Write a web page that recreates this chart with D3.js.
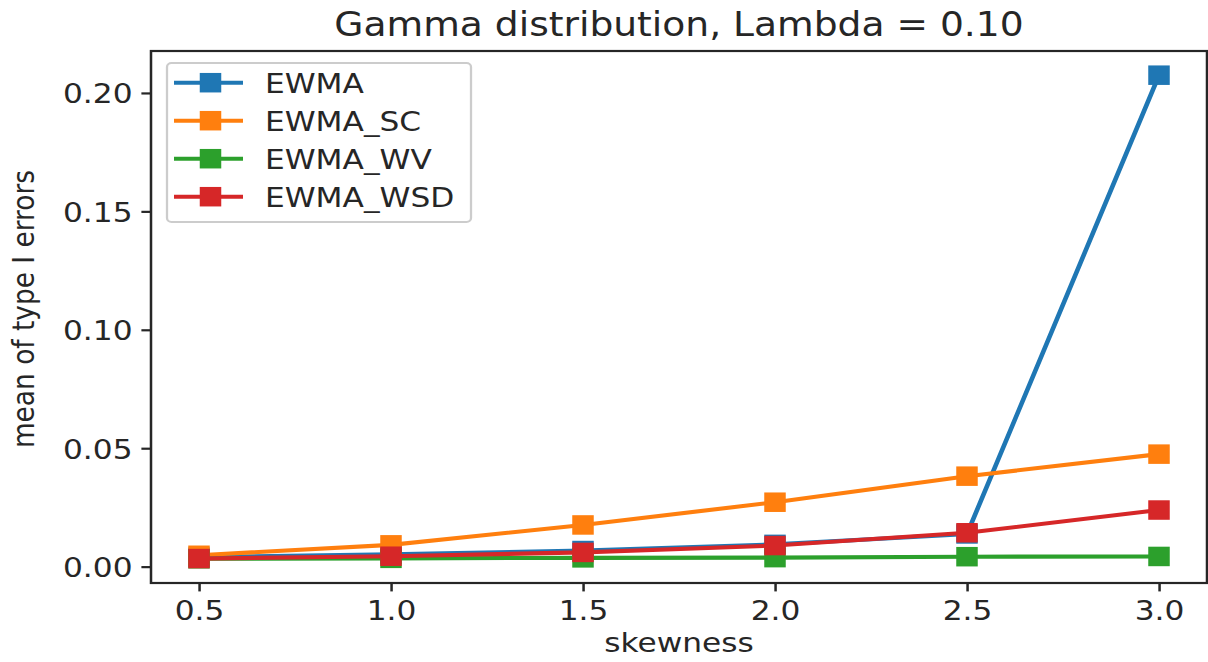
<!DOCTYPE html>
<html>
<head>
<meta charset="utf-8">
<script src="https://cdn.jsdelivr.net/npm/d3@7"></script>
<style>
  html, body { margin: 0; padding: 0; background: #fff; }
  svg { display: block; }
  text { font-family: "DejaVu Sans", sans-serif; fill: #262626; }
</style>
</head>
<body>
<div id="chart"></div>
<script>
// data
const skewness = [0.5, 1.0, 1.5, 2.0, 2.5, 3.0]
const seriesNames = ["EWMA", "EWMA_SC", "EWMA_WV", "EWMA_WSD"]
const ewma    = [0.0040, 0.0052, 0.0068, 0.0094, 0.0138, 0.2075]
const ewmaSC  = [0.0048, 0.0092, 0.0176, 0.0272, 0.0382, 0.0475]
const ewmaWV  = [0.0033, 0.0035, 0.0037, 0.0038, 0.0042, 0.0043]
const ewmaWSD = [0.0034, 0.0044, 0.0060, 0.0089, 0.0143, 0.0239]
const xTicks = [0.5, 1.0, 1.5, 2.0, 2.5, 3.0]
const yTicks = [0.00, 0.05, 0.10, 0.15, 0.20]
const colors = ["#1f77b4", "#ff7f0e", "#2ca02c", "#d62728"]

// the reference is a stretched image: draw in a narrower box and stretch it
const S = 1.14
const W = 1208 / S, H = 662
const m = {top: 51, right: W - 1207 / S, bottom: H - 583, left: 151 / S}
const fs = 27.4

const svg = d3.select("#chart").append("svg")
  .attr("width", 1208).attr("height", H)
  .attr("viewBox", `0 0 ${W} ${H}`)
  .attr("preserveAspectRatio", "none")

const allVals = [ewma, ewmaSC, ewmaWV, ewmaWSD].flat()
const [lo, hi] = d3.extent(allVals)
const pad = (hi - lo) * 0.05
const x = d3.scaleLinear().domain([0.375, 3.125]).range([m.left, W - m.right])
const y = d3.scaleLinear().domain([lo - pad, hi + pad]).range([H - m.bottom, m.top])

// axes
const xAxis = svg.append("g")
  .attr("transform", `translate(0, ${H - m.bottom})`)
  .call(d3.axisBottom(x).tickValues(xTicks).tickFormat(d3.format(".1f")).tickSize(9.6 / S).tickSizeOuter(0))
xAxis.select(".domain").remove()
xAxis.selectAll(".tick line").attr("stroke", "#262626").attr("stroke-width", 2.2)
xAxis.selectAll(".tick text").attr("y", 0).attr("dy", 0)
  .attr("transform", "translate(0, 37)").style("font-size", fs + "px").attr("font-family", null)

const yAxis = svg.append("g")
  .attr("transform", `translate(${m.left}, 0)`)
  .call(d3.axisLeft(y).tickValues(yTicks).tickFormat(d3.format(".2f")).tickSize(9.6 / S).tickSizeOuter(0))
yAxis.select(".domain").remove()
yAxis.selectAll(".tick line").attr("stroke", "#262626").attr("stroke-width", 2.2)
yAxis.selectAll(".tick text").attr("x", -18.5 / S).attr("dy", 0)
  .attr("transform", "translate(0, 10)").style("font-size", fs + "px").attr("font-family", null)

// frame
svg.append("rect")
  .attr("x", m.left).attr("y", m.top)
  .attr("width", W - m.right - m.left).attr("height", H - m.bottom - m.top)
  .attr("fill", "none").attr("stroke", "#262626").attr("stroke-width", 2.2)

// lines and markers
const series = [ewma, ewmaSC, ewmaWV, ewmaWSD]
const line = d3.line().x((d, i) => x(skewness[i])).y(d => y(d))
const mk = 21.5 / S, mkh = 19.5

series.forEach((vals, k) => {
  const g = svg.append("g")
  g.append("path").datum(vals)
    .attr("d", line)
    .attr("fill", "none")
    .attr("stroke", colors[k])
    .attr("stroke-width", 4.1)
  g.selectAll("rect").data(vals).join("rect")
    .attr("x", (d, i) => x(skewness[i]) - mk / 2)
    .attr("y", d => y(d) - mkh / 2)
    .attr("width", mk).attr("height", mkh)
    .attr("fill", colors[k])
})

// legend
const lg = svg.append("g")
lg.append("rect")
  .attr("x", 167 / S).attr("y", 63)
  .attr("width", (471 - 167) / S).attr("height", 222 - 63)
  .attr("rx", 4).attr("ry", 4)
  .attr("fill", "#fff").attr("fill-opacity", 0.8)
  .attr("stroke", "#ccc").attr("stroke-width", 2)
seriesNames.forEach((name, k) => {
  const cy = 82.7 + k * 38
  lg.append("line")
    .attr("x1", 174 / S).attr("x2", 243 / S)
    .attr("y1", cy).attr("y2", cy)
    .attr("stroke", colors[k]).attr("stroke-width", 4.1)
  lg.append("rect")
    .attr("x", 210.5 / S - mk / 2).attr("y", cy - mkh / 2)
    .attr("width", mk).attr("height", mkh)
    .attr("fill", colors[k])
  lg.append("text")
    .attr("x", 265 / S).attr("y", cy + 10)
    .style("font-size", fs + "px")
    .text(name)
})

// title and axis labels
svg.append("text")
  .attr("x", (m.left + W - m.right) / 2).attr("y", 36)
  .attr("text-anchor", "middle")
  .style("font-size", "33px")
  .text("Gamma distribution, Lambda = 0.10")

svg.append("text")
  .attr("x", (m.left + W - m.right) / 2).attr("y", 652)
  .attr("text-anchor", "middle")
  .style("font-size", fs + "px")
  .text("skewness")

svg.append("text")
  .attr("transform", `translate(${34 / S}, ${(m.top + H - m.bottom) / 2 - 8}) rotate(-90)`)
  .attr("text-anchor", "middle")
  .style("font-size", "26.4px")
  .text("mean of type I errors")
</script>
</body>
</html>
